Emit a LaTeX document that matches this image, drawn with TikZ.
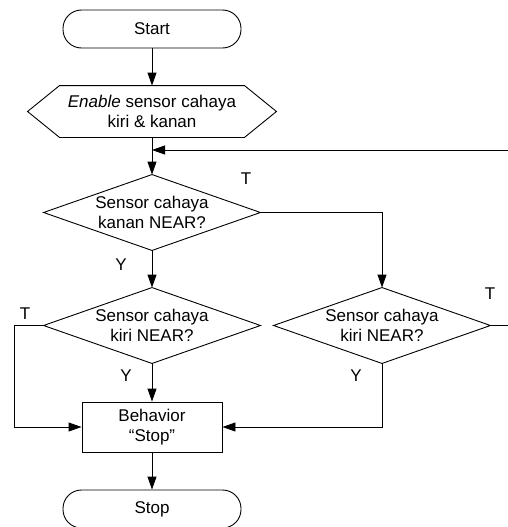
\documentclass[tikz,border=0pt]{standalone}
\usepackage{fontspec}
\setmainfont{Liberation Sans}
\usetikzlibrary{arrows.meta}
\begin{document}
\begin{tikzpicture}[x=1pt,y=-1pt, line width=0.9pt,
  every node/.style={font=\fontsize{17}{20}\selectfont, align=center},
  term/.style={draw, rectangle, rounded corners=18.5pt, minimum width=178pt, minimum height=38pt, inner sep=0pt},
  proc/.style={draw, rectangle, minimum width=140pt, minimum height=50pt, inner sep=0pt},
  decbox/.style={rectangle, minimum width=216pt, minimum height=75pt, inner sep=0pt},
  prepbox/.style={rectangle, minimum width=248pt, minimum height=51pt, inner sep=0pt},
  arr/.style={-{Triangle[length=13pt,width=9pt]}},
  lbl/.style={inner sep=0pt}
]
\useasboundingbox (0,0) rectangle (508,527);

\node[term] (start) at (152,29) {Start};
\node[prepbox] (en) at (152,111.5) {\textit{Enable} sensor cahaya\\kiri \& kanan};
\draw (en.west) -- ([xshift=32pt]en.north west) -- ([xshift=-32pt]en.north east)
  -- (en.east) -- ([xshift=-32pt]en.south east) -- ([xshift=32pt]en.south west) -- cycle;

\node[decbox] (d1) at (152,212.5) {Sensor cahaya\\kanan NEAR?};
\draw (d1.north) -- (d1.east) -- (d1.south) -- (d1.west) -- cycle;

\node[decbox] (d2) at (152,325.5) {Sensor cahaya\\kiri NEAR?};
\draw (d2.north) -- (d2.east) -- (d2.south) -- (d2.west) -- cycle;

\node[decbox] (d3) at (382,325.5) {Sensor cahaya\\kiri NEAR?};
\draw (d3.north) -- (d3.east) -- (d3.south) -- (d3.west) -- cycle;

\node[proc] (box) at (152,427) {Behavior\\“Stop”};
\node[term] (stop) at (152,509) {Stop};

\coordinate (j) at (152,150);

\node[lbl] (t1) at (246,179) {T};
\node[lbl] (y1) at (121,265) {Y};
\node[lbl] (t2) at (25,314) {T};
\node[lbl] (t3) at (490,294) {T};
\node[lbl] (y2) at (126,376) {Y};
\node[lbl] (y3) at (356,376) {Y};

\draw[arr] (start) -- (en);
\draw[arr] (en.south) -- (d1.north);
\draw[arr] (d1.south) -- (d2.north);
\draw[arr] (d1.east) -| (d3.north);
\draw[arr] (d2.west) -- ++(-29,0) |- (box.west);
\draw[arr] (d2.south) -- (box.north);
\draw[arr] (d3.south) |- (box.east);
\draw[arr] (box) -- (stop);
\draw[arr] (d3.east) -- ++(30,0) |- (j);
\end{tikzpicture}
\end{document}
